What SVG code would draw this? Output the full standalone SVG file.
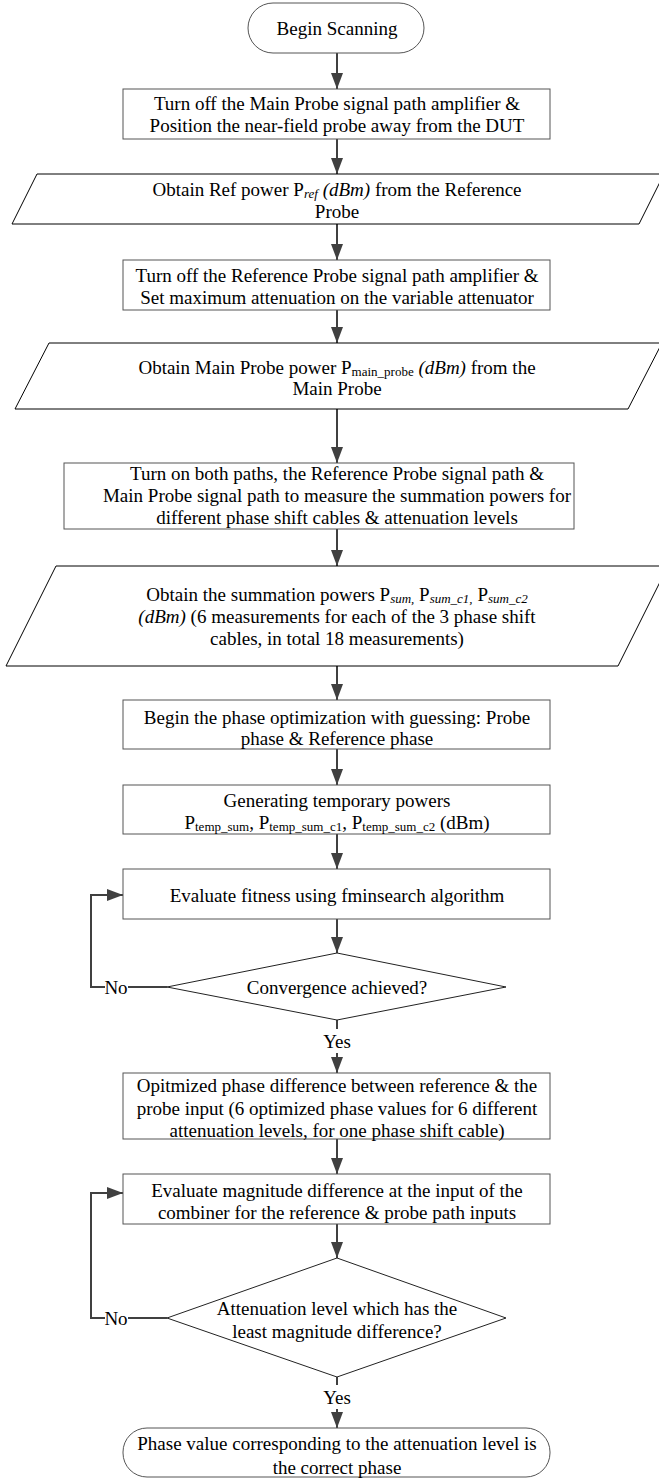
<svg xmlns="http://www.w3.org/2000/svg" width="659" height="1478" viewBox="0 0 659 1478">
<style>
text{font-family:"Liberation Serif","Times New Roman",serif;font-size:19px;fill:#000;text-anchor:middle;dominant-baseline:central}
.box{fill:#fff;stroke:#555;stroke-width:1}
.io{fill:#fff;stroke:#000;stroke-width:1}
.dec{fill:#fff;stroke:#222;stroke-width:1}
.conn{fill:none;stroke:#404040;stroke-width:2}
.arr{marker-end:url(#ah)}
.it{font-style:italic}
.sub{font-size:13px}
</style>
<defs>
<marker id="ah" markerUnits="userSpaceOnUse" markerWidth="16" markerHeight="12" refX="16" refY="6" orient="auto" viewBox="0 0 16 12">
<path d="M0,0 L16,6 L0,12 z" fill="#404040"/>
</marker>
</defs>
<rect width="659" height="1478" fill="#fff"/>
<g id="connectors">
<line class="conn arr" x1="337" y1="53" x2="337" y2="89"/>
<line class="conn arr" x1="337" y1="139" x2="337" y2="174"/>
<line class="conn arr" x1="337" y1="224" x2="337" y2="260"/>
<line class="conn arr" x1="337" y1="310" x2="337" y2="343"/>
<line class="conn arr" x1="337" y1="409" x2="337" y2="463"/>
<line class="conn arr" x1="337" y1="529" x2="337" y2="566"/>
<line class="conn arr" x1="337" y1="666" x2="337" y2="700"/>
<line class="conn arr" x1="337" y1="749" x2="337" y2="785"/>
<line class="conn arr" x1="337" y1="834" x2="337" y2="869"/>
<line class="conn arr" x1="337" y1="919" x2="337" y2="953"/>
<line class="conn" x1="337" y1="1020" x2="337" y2="1029"/>
<line class="conn arr" x1="337" y1="1053" x2="337" y2="1073"/>
<line class="conn" x1="167" y1="987" x2="128" y2="987"/>
<path class="conn arr" d="M105,987 H91 V895 H123"/>
<line class="conn arr" x1="337" y1="1139" x2="337" y2="1174"/>
<line class="conn arr" x1="337" y1="1224" x2="337" y2="1258"/>
<line class="conn" x1="167" y1="1318" x2="128" y2="1318"/>
<path class="conn arr" d="M105,1318 H91 V1193 H123"/>
<line class="conn" x1="337" y1="1377" x2="337" y2="1385"/>
<line class="conn arr" x1="337" y1="1409" x2="337" y2="1428"/>
<text x="116" y="987">No</text>
<text x="337" y="1041">Yes</text>
<text x="116" y="1318">No</text>
<text x="337" y="1397">Yes</text>
</g>
<g id="start">
<rect class="box" x="248" y="3" width="176" height="50" rx="25"/>
<text x="337" y="28">Begin Scanning</text>
</g>
<g id="step1">
<rect class="box" x="123" y="89" width="427" height="50"/>
<text x="337" y="103">Turn off the Main Probe signal path amplifier &amp;</text>
<text x="337" y="125">Position the near-field probe away from the DUT</text>
</g>
<g id="io1">
<polygon class="io" points="37,174 664,174 639,224 12,224"/>
<text x="337" y="189">Obtain Ref power P<tspan class="it sub" dy="4">ref</tspan><tspan class="it" dy="-4"> (dBm)</tspan> from the Reference</text>
<text x="337" y="211">Probe</text>
</g>
<g id="step2">
<rect class="box" x="123" y="260" width="427" height="50"/>
<text x="337" y="275">Turn off the Reference Probe signal path amplifier &amp;</text>
<text x="337" y="297">Set maximum attenuation on the variable attenuator</text>
</g>
<g id="io2">
<polygon class="io" points="49,343 662,343 628,409 15,409"/>
<text x="337" y="367">Obtain Main Probe power P<tspan class="sub" dy="4">main_probe</tspan><tspan class="it" dy="-4"> (dBm)</tspan> from the</text>
<text x="337" y="388">Main Probe</text>
</g>
<g id="step3">
<rect class="box" x="64" y="463" width="510" height="66"/>
<text x="337" y="473">Turn on both paths, the Reference Probe signal path &amp;</text>
<text x="337" y="495">Main Probe signal path to measure the summation powers for</text>
<text x="337" y="517">different phase shift cables &amp; attenuation levels</text>
</g>
<g id="io3">
<polygon class="io" points="56,566 668,566 618,666 6,666"/>
<text x="337" y="594">Obtain the summation powers P<tspan class="it sub" dy="4">sum,</tspan><tspan dy="-4"> P</tspan><tspan class="it sub" dy="4">sum_c1,</tspan><tspan dy="-4"> P</tspan><tspan class="it sub" dy="4">sum_c2</tspan></text>
<text x="337" y="616"><tspan class="it">(dBm)</tspan> (6 measurements for each of the 3 phase shift</text>
<text x="337" y="638">cables, in total 18 measurements)</text>
</g>
<g id="step4">
<rect class="box" x="123" y="700" width="427" height="49"/>
<text x="337" y="717">Begin the phase optimization with guessing: Probe</text>
<text x="337" y="738">phase &amp; Reference phase</text>
</g>
<g id="step5">
<rect class="box" x="123" y="785" width="427" height="49"/>
<text x="337" y="800">Generating temporary powers</text>
<text x="337" y="822">P<tspan class="sub" dy="4">temp_sum</tspan><tspan dy="-4">, P</tspan><tspan class="sub" dy="4">temp_sum_c1</tspan><tspan dy="-4">, P</tspan><tspan class="sub" dy="4">temp_sum_c2</tspan><tspan dy="-4"> (dBm)</tspan></text>
</g>
<g id="step6">
<rect class="box" x="123" y="869" width="427" height="50"/>
<text x="337" y="895">Evaluate fitness using fminsearch algorithm</text>
</g>
<g id="decision1">
<polygon class="dec" points="337,953 506,987 337,1020 167,987"/>
<text x="337" y="987">Convergence achieved?</text>
</g>
<g id="step7">
<rect class="box" x="123" y="1073" width="427" height="66"/>
<text x="337" y="1085">Opitmized phase difference between reference &amp; the</text>
<text x="337" y="1108">probe input (6 optimized phase values for 6 different</text>
<text x="337" y="1130">attenuation levels, for one phase shift cable)</text>
</g>
<g id="step8">
<rect class="box" x="123" y="1174" width="427" height="50"/>
<text x="337" y="1190">Evaluate magnitude difference at the input of the</text>
<text x="337" y="1212">combiner for the reference &amp; probe path inputs</text>
</g>
<g id="decision2">
<polygon class="dec" points="337,1258 506,1318 337,1377 167,1318"/>
<text x="337" y="1308">Attenuation level which has the</text>
<text x="337" y="1331">least  magnitude difference?</text>
</g>
<g id="end">
<rect class="box" x="123" y="1428" width="427" height="49" rx="24"/>
<text x="337" y="1443">Phase value corresponding to the attenuation level is</text>
<text x="337" y="1467">the correct phase</text>
</g>
</svg>
